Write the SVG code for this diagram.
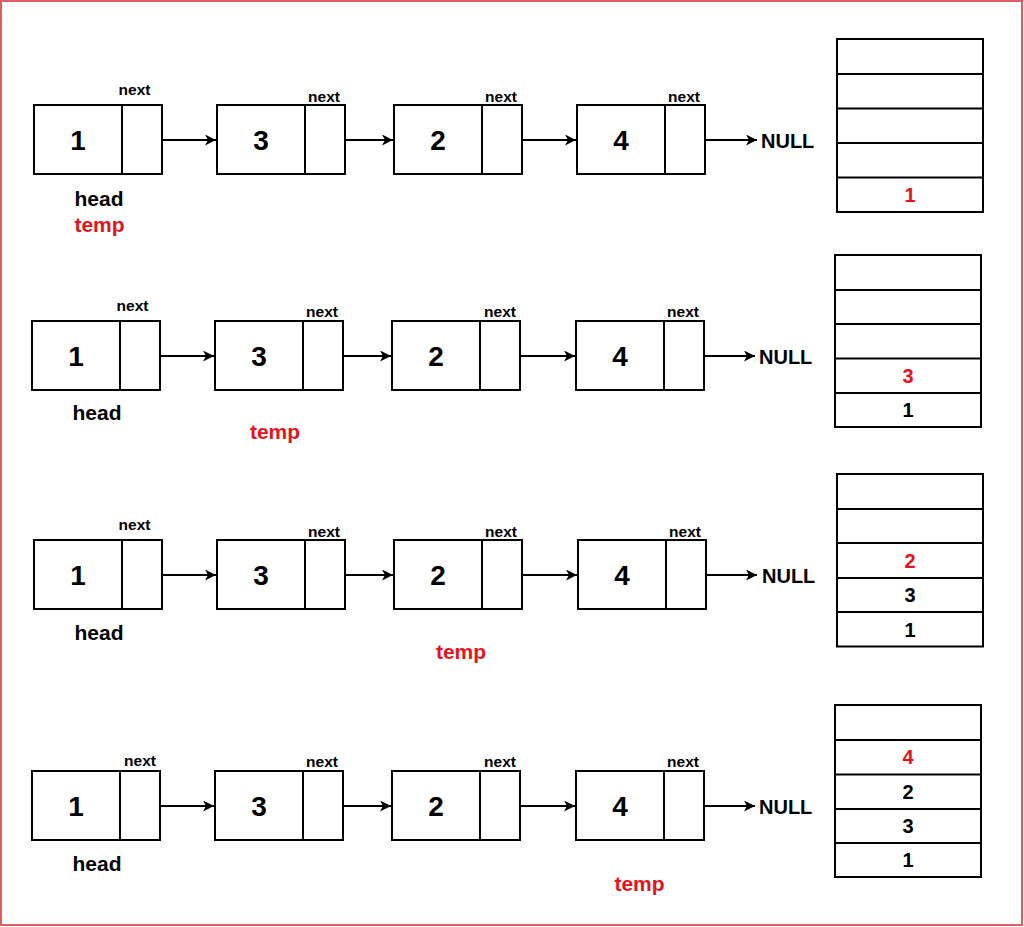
<svg xmlns="http://www.w3.org/2000/svg" width="1024" height="927" viewBox="0 0 1024 927">
<defs>
<style>
text{font-family:"Liberation Sans",Arial,Helvetica,sans-serif;font-weight:bold;fill:#000}
.box{fill:#fff;stroke:#000;stroke-width:2}
.ln{stroke:#000;stroke-width:2;fill:none}
.num{font-size:28px;text-anchor:middle}
.nx{font-size:15.5px;text-anchor:middle}
.lbl{font-size:21px;text-anchor:middle}
.red{fill:#e6131d}
.null{font-size:20px}
.sn{font-size:20px;text-anchor:middle}
.arr{stroke:#000;stroke-width:2;fill:none;marker-end:url(#ah)}
</style>
<marker id="ah" markerUnits="userSpaceOnUse" markerWidth="12" markerHeight="12" refX="11" refY="5.5" orient="auto">
<path d="M0,0 L11,5.5 L0,11 L3,5.5 Z" fill="#000"/>
</marker>
</defs>
<rect x="1" y="1" width="1021" height="924" fill="#fff" stroke="#e06062" stroke-width="2"/>

<!-- Row 1 -->
<g id="r1n1"><rect class="box" x="34" y="105" width="128" height="69"/><line class="ln" x1="122" y1="105" x2="122" y2="174"/><text class="num" x="78" y="150">1</text><text class="nx" x="134.5" y="95">next</text></g>
<g id="r1n2"><rect class="box" x="217" y="105" width="128" height="69"/><line class="ln" x1="305" y1="105" x2="305" y2="174"/><text class="num" x="261" y="150">3</text><text class="nx" x="324" y="102">next</text></g>
<g id="r1n3"><rect class="box" x="394" y="105" width="128" height="69"/><line class="ln" x1="482" y1="105" x2="482" y2="174"/><text class="num" x="438" y="150">2</text><text class="nx" x="501" y="102">next</text></g>
<g id="r1n4"><rect class="box" x="577" y="105" width="128" height="69"/><line class="ln" x1="665" y1="105" x2="665" y2="174"/><text class="num" x="621" y="150">4</text><text class="nx" x="684" y="102">next</text></g>
<g id="r1labels"><text class="lbl" x="99" y="206">head</text><text class="lbl red" x="99.5" y="232">temp</text><text class="null" x="761" y="148">NULL</text></g>
<g id="r1stack">
<rect class="box" x="837" y="39" width="146" height="173"/>
<line class="ln" x1="837" y1="74" x2="983" y2="74"/><line class="ln" x1="837" y1="108.5" x2="983" y2="108.5"/><line class="ln" x1="837" y1="143" x2="983" y2="143"/><line class="ln" x1="837" y1="177.5" x2="983" y2="177.5"/>
<text class="sn red" x="910" y="202">1</text>
</g>

<!-- Row 2 -->
<g id="r2n1"><rect class="box" x="32" y="321" width="128" height="69"/><line class="ln" x1="120" y1="321" x2="120" y2="390"/><text class="num" x="76" y="366">1</text><text class="nx" x="132.5" y="311">next</text></g>
<g id="r2n2"><rect class="box" x="215" y="321" width="128" height="69"/><line class="ln" x1="303" y1="321" x2="303" y2="390"/><text class="num" x="259" y="366">3</text><text class="nx" x="322" y="317">next</text></g>
<g id="r2n3"><rect class="box" x="392" y="321" width="128" height="69"/><line class="ln" x1="480" y1="321" x2="480" y2="390"/><text class="num" x="436" y="366">2</text><text class="nx" x="500" y="317">next</text></g>
<g id="r2n4"><rect class="box" x="576" y="321" width="128" height="69"/><line class="ln" x1="664" y1="321" x2="664" y2="390"/><text class="num" x="620" y="366">4</text><text class="nx" x="683" y="317">next</text></g>
<g id="r2labels"><text class="lbl" x="97" y="420">head</text><text class="lbl red" x="275" y="439">temp</text><text class="null" x="759" y="364">NULL</text></g>
<g id="r2stack">
<rect class="box" x="835" y="255" width="146" height="172"/>
<line class="ln" x1="835" y1="290" x2="981" y2="290"/><line class="ln" x1="835" y1="324" x2="981" y2="324"/><line class="ln" x1="835" y1="358.5" x2="981" y2="358.5"/><line class="ln" x1="835" y1="393" x2="981" y2="393"/>
<text class="sn red" x="908" y="383">3</text>
<text class="sn" x="908" y="417">1</text>
</g>

<!-- Row 3 -->
<g id="r3n1"><rect class="box" x="34" y="540" width="128" height="69"/><line class="ln" x1="122" y1="540" x2="122" y2="609"/><text class="num" x="78" y="585">1</text><text class="nx" x="134.5" y="530">next</text></g>
<g id="r3n2"><rect class="box" x="217" y="540" width="128" height="69"/><line class="ln" x1="305" y1="540" x2="305" y2="609"/><text class="num" x="261" y="585">3</text><text class="nx" x="324" y="537">next</text></g>
<g id="r3n3"><rect class="box" x="394" y="540" width="128" height="69"/><line class="ln" x1="482" y1="540" x2="482" y2="609"/><text class="num" x="438" y="585">2</text><text class="nx" x="501" y="537">next</text></g>
<g id="r3n4"><rect class="box" x="578" y="540" width="128" height="69"/><line class="ln" x1="666" y1="540" x2="666" y2="609"/><text class="num" x="622" y="585">4</text><text class="nx" x="685" y="537">next</text></g>
<g id="r3labels"><text class="lbl" x="99" y="640">head</text><text class="lbl red" x="461" y="659">temp</text><text class="null" x="762" y="583">NULL</text></g>
<g id="r3stack">
<rect class="box" x="837" y="474" width="146" height="172.5"/>
<line class="ln" x1="837" y1="509" x2="983" y2="509"/><line class="ln" x1="837" y1="543" x2="983" y2="543"/><line class="ln" x1="837" y1="578" x2="983" y2="578"/><line class="ln" x1="837" y1="612" x2="983" y2="612"/>
<text class="sn red" x="910" y="568">2</text>
<text class="sn" x="910" y="602">3</text>
<text class="sn" x="910" y="637">1</text>
</g>

<!-- Row 4 -->
<g id="r4n1"><rect class="box" x="32" y="771" width="128" height="69"/><line class="ln" x1="120" y1="771" x2="120" y2="840"/><text class="num" x="76" y="816">1</text><text class="nx" x="140" y="766">next</text></g>
<g id="r4n2"><rect class="box" x="215" y="771" width="128" height="69"/><line class="ln" x1="303" y1="771" x2="303" y2="840"/><text class="num" x="259" y="816">3</text><text class="nx" x="322" y="767">next</text></g>
<g id="r4n3"><rect class="box" x="392" y="771" width="128" height="69"/><line class="ln" x1="480" y1="771" x2="480" y2="840"/><text class="num" x="436" y="816">2</text><text class="nx" x="500" y="767">next</text></g>
<g id="r4n4"><rect class="box" x="576" y="771" width="128" height="69"/><line class="ln" x1="664" y1="771" x2="664" y2="840"/><text class="num" x="620" y="816">4</text><text class="nx" x="683" y="767">next</text></g>
<g id="r4labels"><text class="lbl" x="97" y="871">head</text><text class="lbl red" x="639.5" y="891">temp</text><text class="null" x="759" y="814">NULL</text></g>
<g id="r4stack">
<rect class="box" x="835" y="705" width="146" height="172"/>
<line class="ln" x1="835" y1="740" x2="981" y2="740"/><line class="ln" x1="835" y1="774.5" x2="981" y2="774.5"/><line class="ln" x1="835" y1="809" x2="981" y2="809"/><line class="ln" x1="835" y1="843" x2="981" y2="843"/>
<text class="sn red" x="908" y="764">4</text>
<text class="sn" x="908" y="799">2</text>
<text class="sn" x="908" y="833">3</text>
<text class="sn" x="908" y="867">1</text>
</g>

<g id="connectors">
<line class="arr" x1="162" y1="140" x2="216" y2="140"/>
<line class="arr" x1="345" y1="140" x2="393" y2="140"/>
<line class="arr" x1="522" y1="140" x2="576" y2="140"/>
<line class="arr" x1="705" y1="140" x2="757" y2="140"/>

<line class="arr" x1="160" y1="356" x2="214" y2="356"/>
<line class="arr" x1="343" y1="356" x2="391" y2="356"/>
<line class="arr" x1="520" y1="356" x2="575" y2="356"/>
<line class="arr" x1="704" y1="356" x2="755" y2="356"/>

<line class="arr" x1="162" y1="575" x2="216" y2="575"/>
<line class="arr" x1="345" y1="575" x2="393" y2="575"/>
<line class="arr" x1="522" y1="575" x2="577" y2="575"/>
<line class="arr" x1="706" y1="575" x2="757" y2="575"/>

<line class="arr" x1="160" y1="806" x2="214" y2="806"/>
<line class="arr" x1="343" y1="806" x2="391" y2="806"/>
<line class="arr" x1="520" y1="806" x2="575" y2="806"/>
<line class="arr" x1="704" y1="806" x2="755" y2="806"/>
</g>
</svg>
